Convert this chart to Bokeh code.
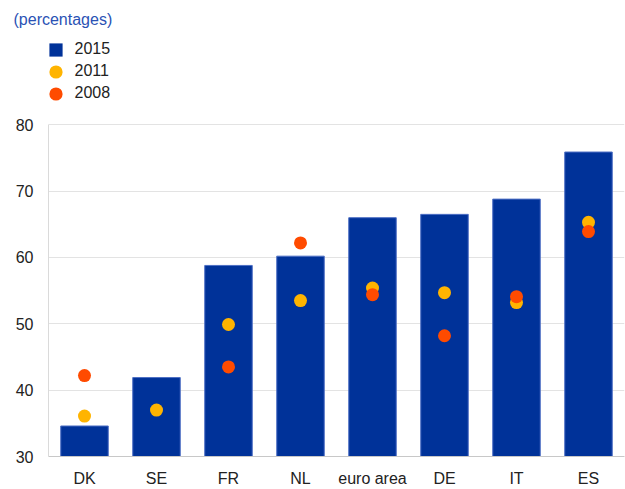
from bokeh.plotting import figure
from bokeh.models import Legend, LegendItem, FactorRange, FixedTicker, ColumnDataSource, Range1d
from bokeh.embed import file_html
from bokeh.resources import INLINE

categories = ["DK", "SE", "FR", "NL", "euro area", "DE", "IT", "ES"]
values_2015 = [34.6, 41.9, 58.8, 60.2, 66.0, 66.5, 68.8, 75.9]
values_2011 = [36.1, 37.0, 49.9, 53.5, 55.4, 54.7, 53.2, 65.3]
values_2008 = [42.2, float("nan"), 43.5, 62.2, 54.4, 48.2, 54.1, 63.9]
y_ticks = [30, 40, 50, 60, 70, 80]
series_names = ["2015", "2011", "2008"]

BLUE = "#003299"
YELLOW = "#ffb400"
RED = "#ff4b00"
FONT = "Liberation Sans"
FS = "16px"

# layout (pixels)
W, H = 625, 489
LEFT, RIGHT, BOTTOM = 48, 1, 30
FRAME_TOP = 27          # frame extends up to hold legend
AXIS_TOP = 125          # where value 80 sits
y0, y1 = y_ticks[0], y_ticks[-1]
px_per_unit = (H - BOTTOM - AXIS_TOP) / (y1 - y0)
y_end = y1 + (AXIS_TOP - FRAME_TOP) / px_per_unit

src = ColumnDataSource(dict(cat=categories, v15=values_2015, v11=values_2011, v08=values_2008))

p = figure(width=W, height=H, x_range=FactorRange(*categories, range_padding=0),
           y_range=Range1d(y0, y_end), output_backend="svg", toolbar_location=None,
           min_border_left=LEFT, min_border_right=RIGHT, min_border_top=FRAME_TOP,
           min_border_bottom=BOTTOM, title="(percentages)")
p.outline_line_color = None
p.background_fill_color = "white"

p.title.text_color = "#2a52b4"
p.title.text_font_size = FS
p.title.text_font = FONT
p.title.text_font_style = "normal"
p.title.align = "left"
p.title.offset = -35
p.title.standoff = 0

p.vbar(x="cat", top="v15", bottom=y0, width=0.66, source=src,
       fill_color=BLUE, line_color="#4d6fc4", line_width=1)
r11 = p.scatter(x="cat", y="v11", source=src, size=13, marker="circle",
                fill_color=YELLOW, line_color=None)
r08 = p.scatter(x="cat", y="v08", source=src, size=13, marker="circle",
                fill_color=RED, line_color=None)
d15 = p.scatter(x="cat", y="v15", source=src, marker="square", fill_color=BLUE,
                line_color=None, visible=False)

legend_renderers = [d15, r11, r08]
for i, (name, rend) in enumerate(zip(series_names, legend_renderers)):
    cy = 52 + 22 * i                      # row centre from top of page
    vy = (H - BOTTOM) - (cy + 16.5)       # legend bottom, measured up from frame bottom
    lg = Legend(items=[LegendItem(label=name, renderers=[rend])],
                location=(-9.5, vy), orientation="vertical",
                glyph_width=33, glyph_height=33, label_standoff=3,
                padding=0, margin=0, border_line_color=None, background_fill_alpha=0,
                label_text_font_size=FS, label_text_font=FONT,
                label_text_color="#222222")
    p.add_layout(lg, "center")

p.xgrid.grid_line_color = None
p.ygrid.grid_line_color = "#e3e3e3"
p.ygrid.grid_line_width = 1
p.yaxis.ticker = FixedTicker(ticks=y_ticks)
p.ygrid.ticker = FixedTicker(ticks=y_ticks)
p.yaxis.bounds = (y0, y1)
p.yaxis.axis_line_color = "#dadada"
p.xaxis.axis_line_color = "#c8c8c8"
for ax in (p.xaxis, p.yaxis):
    ax.major_tick_line_color = None
    ax.minor_tick_line_color = None
    ax.major_label_text_font_size = FS
    ax.major_label_text_font = FONT
    ax.major_label_text_color = "#222222"
p.yaxis.major_label_standoff = 9
p.xaxis.major_label_standoff = 7

open("out.html", "w").write(file_html(p, INLINE))
